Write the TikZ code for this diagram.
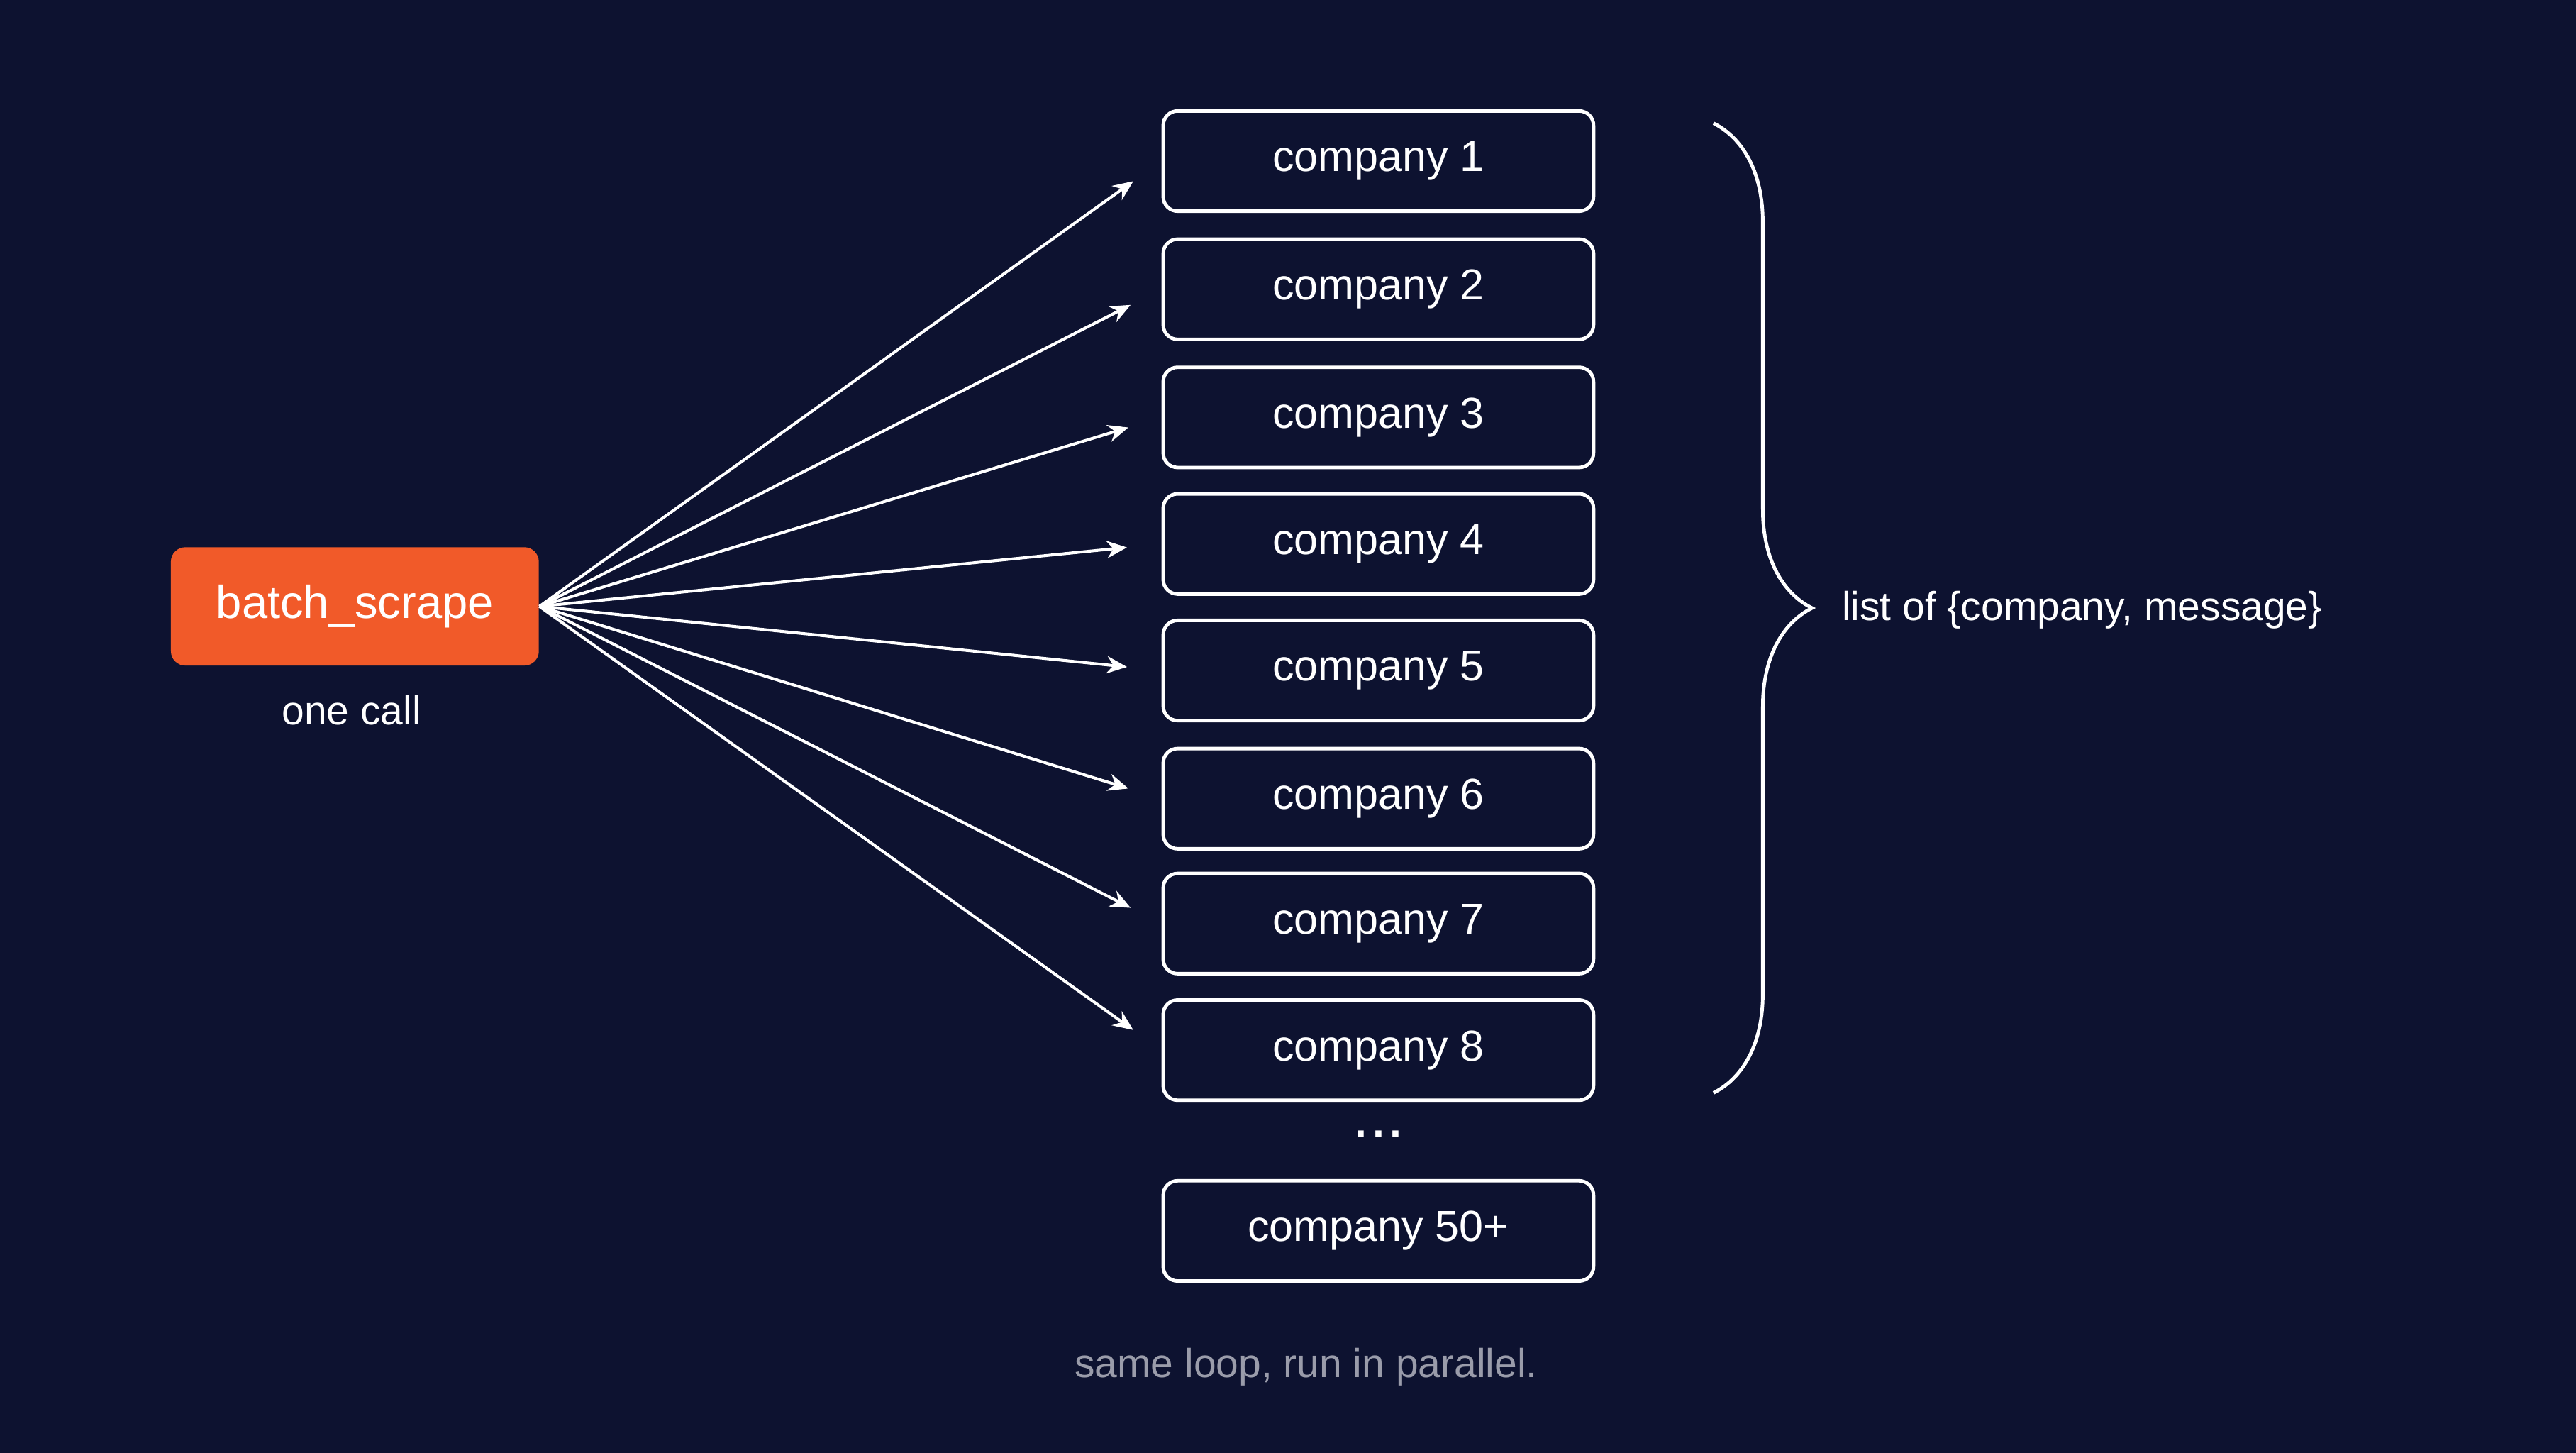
\documentclass[tikz,border=0pt]{standalone}
\usepackage{fontspec}
\setmainfont{Liberation Sans}
\usetikzlibrary{arrows.meta,positioning,decorations.pathreplacing}

\definecolor{bgnavy}{HTML}{0D1230}
\definecolor{scrapeorange}{HTML}{F15A29}
\definecolor{notegray}{HTML}{9A9CAA}

\tikzset{
	company/.style={draw=white,line width=1.2pt,rounded corners=5pt,fill=bgnavy,
		minimum width=5.24cm,minimum height=1.22cm,text=white,font=\fontsize{15}{18}\selectfont},
	fanout/.style={draw=white,line width=1pt,-{Stealth[length=7pt,width=6pt]},shorten >=12pt}
}

\begin{document}
\begin{tikzpicture}[x=0.02cm,y=-0.02cm]
		\path[fill=bgnavy] (0,0) rectangle (1568,884);
		
		\node[fill=scrapeorange,rounded corners=5pt,minimum width=4.48cm,minimum height=1.44cm,
			text=white,font=\fontsize{16}{19}\selectfont] (scrape) at (216,369) {batch\_scrape};
		\node[text=white,font=\fontsize{14}{17}\selectfont] (onecall) at (214,432) {one call};
		
		\foreach \i/\y in {1/98,2/176,3/254,4/331,5/408,6/486,7/562,8/639} {
			\node[company] (c\i) at (839,\y) {company \i};
			\draw[fanout] (scrape.east) -- (c\i.west);
		}
		\node[text=white,font=\fontsize{22}{22}\selectfont] (dots) at (839,690) {...};
		\node[company] (cmore) at (839,749) {company 50+};
		
		\coordinate (bracetop) at (1043,75);
		\coordinate (bracebot) at (1043,665);
		\draw[white,line width=1.2pt,decorate,decoration={brace,amplitude=1.2cm}] (bracetop) -- (bracebot);
		\node[anchor=west,text=white,font=\fontsize{14}{17}\selectfont] (result) at (1115,371) {list of \{company, message\}};
		
		\node[text=notegray,font=\fontsize{14}{17}\selectfont] (note) at (795,832) {same loop, run in parallel.};
	\end{tikzpicture}
\end{document}
